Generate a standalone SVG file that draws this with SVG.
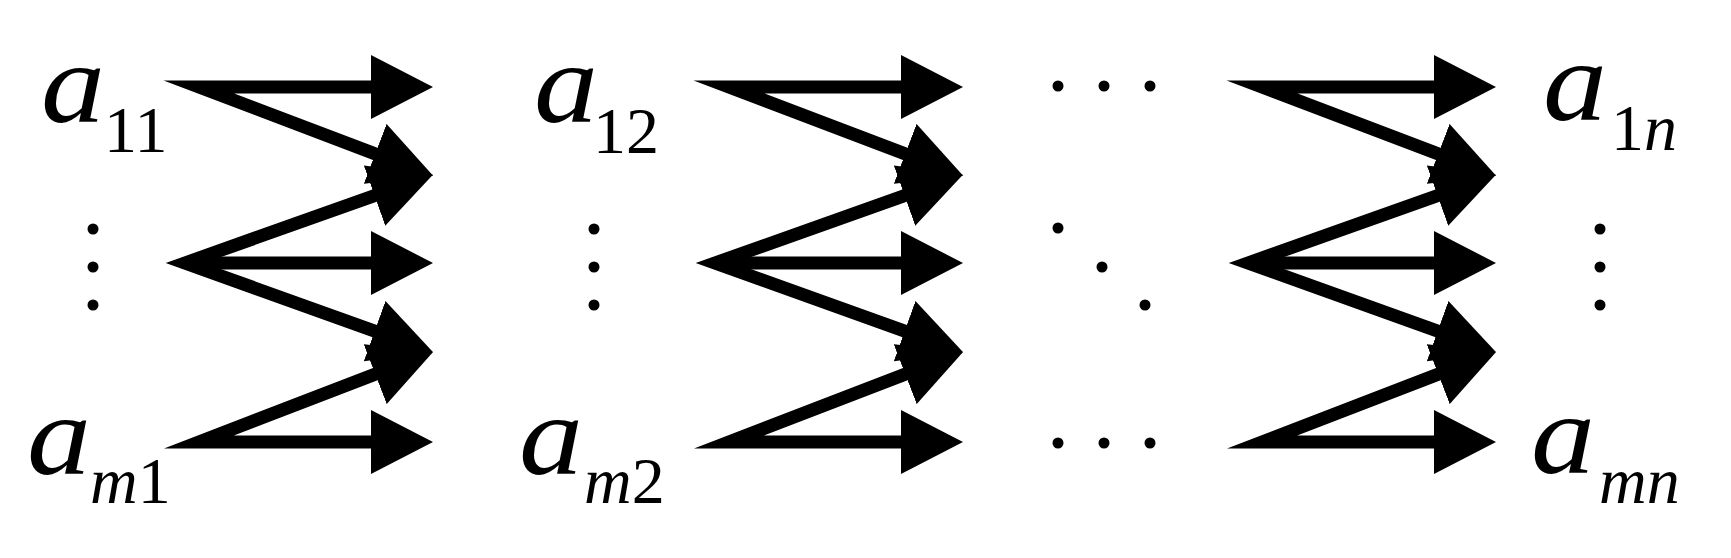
<svg xmlns="http://www.w3.org/2000/svg" width="1731" height="558" viewBox="0 0 1731 558">
<style>
.lbl{font-family:"Liberation Serif","Times New Roman",serif;fill:#000}
.a{font-size:114px;font-style:italic}
.sub{font-size:66px}
.it{font-style:italic}
.c{fill:none;stroke:#000;stroke-width:13;stroke-linejoin:miter;stroke-miterlimit:8;marker-start:url(#ah);marker-end:url(#ah)}
.h{fill:none;stroke:#000;stroke-width:13;marker-end:url(#ah)}
.dot{fill:#000}
</style>
<defs>
<marker id="ah" markerUnits="userSpaceOnUse" viewBox="0 0 62 64" markerWidth="62" markerHeight="64" refX="12" refY="32" orient="auto-start-reverse">
<path d="M0,0 L62,32 L0,64 z" fill="#000"/>
</marker>
<g id="col">
<path class="c" d="M383,87 L199,87 L386.4,158.1"/>
<path class="c" d="M385.8,191.6 L185,263 L385.9,335.2"/>
<path class="h" d="M203,263 L383,263"/>
<path class="c" d="M383,442 L199,442 L386.4,369.9"/>
</g>
</defs>
<rect width="1731" height="558" fill="#fff"/>
<g id="connectors">
<use href="#col"/>
<use href="#col" transform="translate(530,0)"/>
<use href="#col" transform="translate(1063,0)"/>
</g>
<g id="a11" class="lbl"><text class="a" x="41" y="122" textLength="64" lengthAdjust="spacingAndGlyphs">a</text><text class="sub" x="104" y="152">11</text></g>
<g id="am1" class="lbl"><text class="a" x="27" y="474" textLength="64" lengthAdjust="spacingAndGlyphs">a</text><text class="sub" x="90" y="503"><tspan class="it">m</tspan>1</text></g>
<g id="a12" class="lbl"><text class="a" x="534" y="122" textLength="64" lengthAdjust="spacingAndGlyphs">a</text><text class="sub" x="593" y="153">12</text></g>
<g id="am2" class="lbl"><text class="a" x="519" y="474" textLength="64" lengthAdjust="spacingAndGlyphs">a</text><text class="sub" x="584" y="503"><tspan class="it">m</tspan>2</text></g>
<g id="a1n" class="lbl"><text class="a" x="1543" y="120" textLength="64" lengthAdjust="spacingAndGlyphs">a</text><text class="sub" x="1611" y="150">1<tspan class="it">n</tspan></text></g>
<g id="amn" class="lbl"><text class="a" x="1531" y="473" textLength="64" lengthAdjust="spacingAndGlyphs">a</text><text class="sub it" x="1599" y="503">mn</text></g>
<g id="vdots1"><circle class="dot" cx="93" cy="229" r="5.5"/><circle class="dot" cx="93" cy="267" r="5.5"/><circle class="dot" cx="93" cy="305" r="5.5"/></g>
<g id="vdots2"><circle class="dot" cx="594" cy="229" r="5.5"/><circle class="dot" cx="594" cy="267" r="5.5"/><circle class="dot" cx="594" cy="305" r="5.5"/></g>
<g id="vdotsn"><circle class="dot" cx="1600" cy="229" r="5.5"/><circle class="dot" cx="1600" cy="267" r="5.5"/><circle class="dot" cx="1600" cy="305" r="5.5"/></g>
<g id="hdots1"><circle class="dot" cx="1058" cy="86" r="5.5"/><circle class="dot" cx="1104" cy="86" r="5.5"/><circle class="dot" cx="1150" cy="86" r="5.5"/></g>
<g id="hdotsm"><circle class="dot" cx="1058" cy="443" r="5.5"/><circle class="dot" cx="1104" cy="443" r="5.5"/><circle class="dot" cx="1150" cy="443" r="5.5"/></g>
<g id="ddots"><circle class="dot" cx="1058" cy="228" r="5.5"/><circle class="dot" cx="1102" cy="267" r="5.5"/><circle class="dot" cx="1145" cy="305" r="5.5"/></g>
</svg>
